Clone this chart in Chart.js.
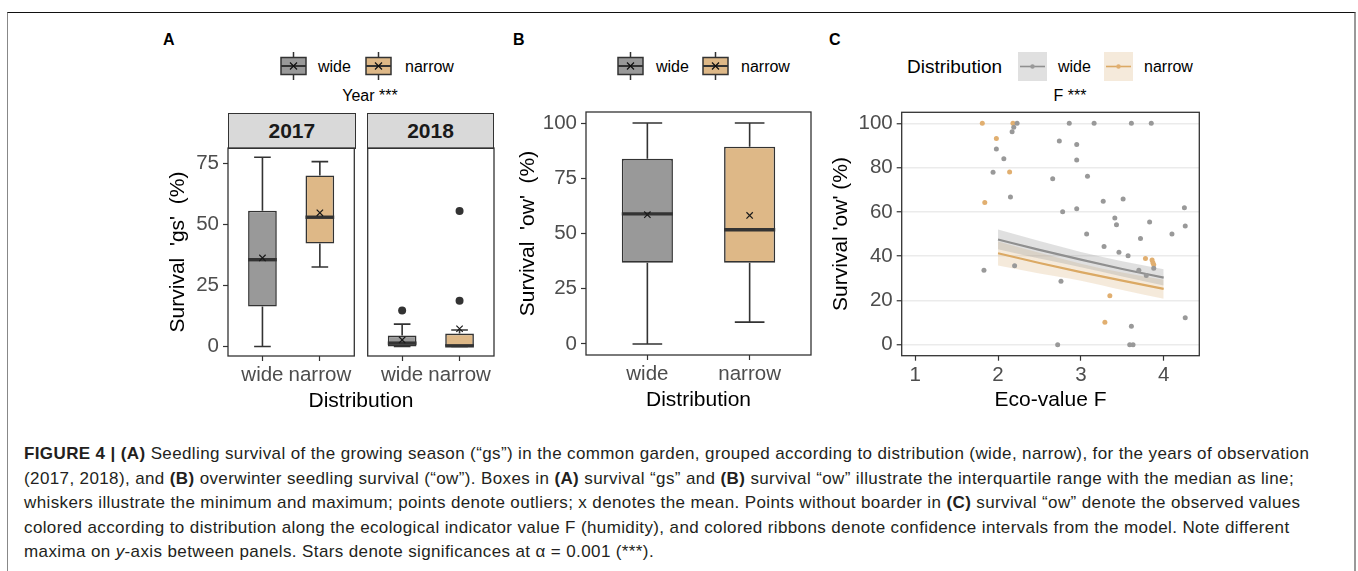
<!DOCTYPE html>
<html lang="en">
<head>
<meta charset="UTF-8">
<meta name="viewport" content="width=device-width, initial-scale=1.0">
<title>Figure 4 - Seedling survival</title>
<script src="https://cdn.jsdelivr.net/npm/chart.js"></script>
<style>
  body { margin: 0; background: #fff; font-family: "Liberation Sans", Arial, sans-serif; }
  #fig { position: relative; width: 1358px; height: 571px; overflow: hidden; }
  .abs { position: absolute; white-space: nowrap; }
  canvas { position: absolute; }
  .frame { left: 7px; top: 12px; width: 1346px; height: 620px; border-top: 1px solid #111; border-left: 1.5px solid #888; border-right: 2px solid #999; }
  .tag { font-weight: bold; font-size: 16px; line-height: 18px; color: #000; }
  .leg { font-size: 16px; line-height: 20px; color: #000; }
  .strip { background: #D9D9D9; border: 1.2px solid #333; box-sizing: border-box; font-weight: bold; font-size: 21px; color: #1A1A1A; text-align: center; }
  .axt { font-size: 21px; line-height: 26px; color: #000; text-align: center; }
  .cap { left: 24px; top: 442px; font-size: 17px; letter-spacing: 0.38px; line-height: 24.5px; color: #231F20; }
</style>
</head>
<body>
<div id="fig">
  <div class="abs frame"></div>

  <!-- panel letters -->
  <div class="abs tag" style="left:163px;top:31px">A</div>
  <div class="abs tag" style="left:513px;top:31px">B</div>
  <div class="abs tag" style="left:829px;top:31px">C</div>

  <!-- legend A -->
  <svg class="abs" style="left:280px;top:52px" width="27" height="28">
    <line x1="13.5" y1="0" x2="13.5" y2="6" stroke="#333" stroke-width="1.5"/>
    <line x1="13.5" y1="22" x2="13.5" y2="28" stroke="#333" stroke-width="1.5"/>
    <rect x="1" y="5.5" width="25" height="17" fill="#999999" stroke="#333" stroke-width="1.5"/>
    <line x1="1" y1="14" x2="26" y2="14" stroke="#333" stroke-width="2"/>
    <path d="M10 10.5 L17 17.5 M17 10.5 L10 17.5" stroke="#111" stroke-width="1.2"/>
  </svg>
  <div class="abs leg" style="left:318px;top:57px">wide</div>
  <svg class="abs" style="left:365px;top:52px" width="27" height="28">
    <line x1="13.5" y1="0" x2="13.5" y2="6" stroke="#333" stroke-width="1.5"/>
    <line x1="13.5" y1="22" x2="13.5" y2="28" stroke="#333" stroke-width="1.5"/>
    <rect x="1" y="5.5" width="25" height="17" fill="#DEB887" stroke="#333" stroke-width="1.5"/>
    <line x1="1" y1="14" x2="26" y2="14" stroke="#333" stroke-width="2"/>
    <path d="M10 10.5 L17 17.5 M17 10.5 L10 17.5" stroke="#111" stroke-width="1.2"/>
  </svg>
  <div class="abs leg" style="left:405px;top:57px">narrow</div>
  <div class="abs leg" style="left:270px;top:86px;width:200px;text-align:center">Year ***</div>

  <!-- legend B -->
  <svg class="abs" style="left:617px;top:52px" width="27" height="28">
    <line x1="13.5" y1="0" x2="13.5" y2="6" stroke="#333" stroke-width="1.5"/>
    <line x1="13.5" y1="22" x2="13.5" y2="28" stroke="#333" stroke-width="1.5"/>
    <rect x="1" y="5.5" width="25" height="17" fill="#999999" stroke="#333" stroke-width="1.5"/>
    <line x1="1" y1="14" x2="26" y2="14" stroke="#333" stroke-width="2"/>
    <path d="M10 10.5 L17 17.5 M17 10.5 L10 17.5" stroke="#111" stroke-width="1.2"/>
  </svg>
  <div class="abs leg" style="left:656px;top:57px">wide</div>
  <svg class="abs" style="left:702px;top:52px" width="27" height="28">
    <line x1="13.5" y1="0" x2="13.5" y2="6" stroke="#333" stroke-width="1.5"/>
    <line x1="13.5" y1="22" x2="13.5" y2="28" stroke="#333" stroke-width="1.5"/>
    <rect x="1" y="5.5" width="25" height="17" fill="#DEB887" stroke="#333" stroke-width="1.5"/>
    <line x1="1" y1="14" x2="26" y2="14" stroke="#333" stroke-width="2"/>
    <path d="M10 10.5 L17 17.5 M17 10.5 L10 17.5" stroke="#111" stroke-width="1.2"/>
  </svg>
  <div class="abs leg" style="left:741px;top:57px">narrow</div>

  <!-- legend C -->
  <div class="abs" style="left:907px;top:55px;font-size:19px;line-height:23px">Distribution</div>
  <svg class="abs" style="left:1018px;top:52px" width="29" height="29">
    <rect x="0" y="0" width="29" height="29" fill="#E0E0E0"/>
    <line x1="2" y1="14.5" x2="27" y2="14.5" stroke="#8F8F8F" stroke-width="1.6"/>
    <circle cx="14.5" cy="14.5" r="2.2" fill="#999999"/>
  </svg>
  <div class="abs leg" style="left:1058px;top:57px">wide</div>
  <svg class="abs" style="left:1104px;top:52px" width="29" height="29">
    <rect x="0" y="0" width="29" height="29" fill="#F5EADB"/>
    <line x1="2" y1="14.5" x2="27" y2="14.5" stroke="#DBA964" stroke-width="1.6"/>
    <circle cx="14.5" cy="14.5" r="2.2" fill="#E1AF70"/>
  </svg>
  <div class="abs leg" style="left:1144px;top:57px">narrow</div>
  <div class="abs leg" style="left:970px;top:86px;width:200px;text-align:center">F ***</div>

  <!-- facet strips for A -->
  <div class="abs strip" style="left:227.7px;top:112.7px;width:128.3px;height:36.3px;line-height:34px">2017</div>
  <div class="abs strip" style="left:366.7px;top:112.7px;width:127.6px;height:36.3px;line-height:34px">2018</div>

  <canvas id="chartA1" width="210" height="260" style="left:150px;top:140px"></canvas>
  <canvas id="chartA2" width="138" height="260" style="left:362px;top:140px"></canvas>
  <div class="abs axt" style="left:261px;top:387px;width:200px">Distribution</div>

  <canvas id="chartB" width="320" height="320" style="left:500px;top:104px"></canvas>
  <canvas id="chartC" width="386" height="320" style="left:820px;top:104px"></canvas>

  <div class="abs cap">
    <b>FIGURE 4 | (A)</b> Seedling survival of the growing season (“gs”) in the common garden, grouped according to distribution (wide, narrow), for the years of observation<br>
    (2017, 2018), and <b>(B)</b> overwinter seedling survival (“ow”). Boxes in <b>(A)</b> survival “gs” and <b>(B)</b> survival “ow” illustrate the interquartile range with the median as line;<br>
    whiskers illustrate the minimum and maximum; points denote outliers; x denotes the mean. Points without boarder in <b>(C)</b> survival “ow” denote the observed values<br>
    colored according to distribution along the ecological indicator value F (humidity), and colored ribbons denote confidence intervals from the model. Note different<br>
    maxima on <i>y</i>-axis between panels. Stars denote significances at α = 0.001 (***).
  </div>
</div>

<script>
// categories
const groups = ['wide', 'narrow'];
const groupPos = [1, 2];

// A: survival 'gs' (%), 2017
const gs17Min = [0, 32.6];
const gs17Q1 = [16.4, 42.2];
const gs17Median = [35.6, 53.0];
const gs17Q3 = [55.7, 70.1];
const gs17Max = [77.6, 75.8];
const gs17Mean = [36.3, 54.8];

// A: survival 'gs' (%), 2018
const gs18Min = [0, 0];
const gs18Q1 = [0, 0];
const gs18Median = [1.4, 0.3];
const gs18Q3 = [4.5, 5.3];
const gs18Max = [9.2, 6.8];
const gs18Mean = [2.7, 7.3];
const gs18OutlierPos = [1, 2, 2];
const gs18OutlierVal = [14.8, 55.6, 18.8];

// B: survival 'ow' (%)
const owMin = [0, 9.9];
const owQ1 = [36.8, 36.8];
const owMedian = [58.9, 51.7];
const owQ3 = [83.8, 89.3];
const owMax = [100, 100];
const owMean = [58.5, 58.2];

// C: observed survival 'ow' against eco-value F
const wideF = [2.23, 2.19, 2.17, 1.98, 2.07, 1.94, 2.15, 1.83, 2.20, 2.86, 3.16, 3.61, 3.85,
  2.74, 2.95, 2.95, 3.08, 2.66, 2.78, 2.95, 3.27, 3.51, 4.25, 3.41, 3.43, 3.83, 4.26, 3.07,
  4.10, 3.72, 3.28, 3.46, 3.57, 3.70, 3.79, 3.88, 2.76, 3.61, 4.26, 2.72, 3.59, 3.63];
const wideOw = [100, 98.2, 96.2, 88.4, 84.0, 77.9, 66.7, 33.6, 35.7, 100, 100, 100, 100,
  92.0, 90.4, 83.4, 76.1, 75.0, 60.1, 61.4, 64.8, 65.8, 61.9, 57.2, 54.2, 55.4, 53.6, 50.0,
  50.0, 48.0, 44.4, 41.7, 40.2, 33.6, 31.3, 34.5, 28.6, 8.3, 12.2, 0, 0, 0];
const narrowF = [1.81, 2.18, 1.98, 2.14, 1.84, 3.78, 3.86, 3.87, 3.88, 3.35, 3.29];
const narrowOw = [100, 100, 93.2, 78.0, 64.2, 38.9, 38.3, 37.0, 36.1, 22.1, 10.1];

// C: model fit and confidence ribbon
const fitF = [2, 2.5, 3, 3.5, 4];
const wideFit = [47.5, 42.8, 38.4, 34.2, 30.3];
const wideUpper = [52.0, 46.8, 41.9, 37.7, 34.1];
const wideLower = [43.1, 38.9, 35.0, 30.8, 26.7];
const narrowFit = [41.3, 36.9, 32.8, 28.9, 25.2];
const narrowUpper = [46.6, 41.5, 36.6, 32.6, 29.3];
const narrowLower = [35.8, 32.2, 28.9, 24.7, 20.7];

// tick labels
const yTicksA = [0, 25, 50, 75];
const yTicksB = [0, 25, 50, 75, 100];
const yTicksC = [0, 20, 40, 60, 80, 100];
const xTicksC = [1, 2, 3, 4];

const boxFill = ['#999999', '#DEB887'];
const capWidth = 0.29;

Chart.defaults.font.family = '"Liberation Sans", Arial, sans-serif';
Chart.defaults.animation = false;
Chart.defaults.plugins.legend.display = false;
Chart.defaults.plugins.tooltip.enabled = false;

function pts(xs, ys) {
  return xs.map((x, i) => ({x: x, y: ys[i]}));
}

// keep axis boxes at a fixed size so the plot areas line up with the figure
function fixAxis(w, h) {
  return function (s) {
    if (w !== undefined) s.width = w;
    if (h !== undefined) s.height = h;
    s.paddingTop = s.paddingBottom = s.paddingLeft = s.paddingRight = 0;
  };
}

const panelFrame = {
  id: 'panelFrame',
  afterDatasetsDraw(chart) {
    const a = chart.chartArea, ctx = chart.ctx;
    ctx.save();
    ctx.strokeStyle = '#333333';
    ctx.lineWidth = 1.3;
    ctx.strokeRect(a.left, a.top, a.right - a.left, a.bottom - a.top);
    ctx.restore();
  }
};

// whiskers, caps and median line for the box datasets
const whiskers = {
  id: 'whiskers',
  afterDatasetDraw(chart, args) {
    if (args.index !== 0) return;
    const s = chart.data.datasets[0].stats;
    const {ctx, scales: {x, y}} = chart;
    ctx.save();
    ctx.strokeStyle = '#333333';
    s.q1.forEach((q1, i) => {
      const px = x.getPixelForValue(groupPos[i]);
      const cap = x.getPixelForValue(groupPos[i] + capWidth / 2) - px;
      const half = args.meta.data[i].width / 2;
      const yLo = y.getPixelForValue(s.min[i]);
      const yHi = y.getPixelForValue(s.max[i]);
      ctx.lineWidth = 1.6;
      ctx.beginPath();
      ctx.moveTo(px, yLo); ctx.lineTo(px, y.getPixelForValue(q1));
      ctx.moveTo(px, y.getPixelForValue(s.q3[i])); ctx.lineTo(px, yHi);
      ctx.moveTo(px - cap, yLo); ctx.lineTo(px + cap, yLo);
      ctx.moveTo(px - cap, yHi); ctx.lineTo(px + cap, yHi);
      ctx.stroke();
      const yMed = y.getPixelForValue(s.median[i]);
      ctx.lineWidth = 3.4;
      ctx.beginPath();
      ctx.moveTo(px - half, yMed); ctx.lineTo(px + half, yMed);
      ctx.stroke();
    });
    ctx.restore();
  }
};

function boxPanel(id, s, o) {
  const outliers = pts(s.outX || [], s.outY || []);
  return new Chart(document.getElementById(id), {
    data: {
      datasets: [
        {
          type: 'bar', order: 2, stats: s,
          data: groupPos.map((x, i) => ({x: x, y: [s.q1[i], s.q3[i]]})),
          backgroundColor: boxFill, borderColor: '#333333', borderWidth: 1.6,
          borderSkipped: false, barPercentage: 0.5, categoryPercentage: 1
        },
        {
          type: 'scatter', order: 1, data: outliers,
          pointRadius: 4, backgroundColor: '#333333', borderWidth: 0
        },
        {
          type: 'scatter', order: 0, data: pts(groupPos, s.mean),
          pointStyle: 'crossRot', pointRadius: 4.5, borderColor: '#1A1A1A', borderWidth: 1.2,
          backgroundColor: 'rgba(0,0,0,0)'
        }
      ]
    },
    options: {
      responsive: false,
      layout: {padding: o.pad},
      scales: {
        x: {
          type: 'linear', min: 0.4, max: 2.6, offset: false,
          afterBuildTicks: sc => { sc.ticks = groupPos.map(v => ({value: v})); },
          afterFit: fixAxis(undefined, o.xh),
          grid: {offset: false, drawOnChartArea: false, tickLength: 5, tickColor: '#333333', tickWidth: 1.2},
          border: {display: false},
          ticks: {
            color: '#4D4D4D', font: {size: 20.5}, padding: 2, autoSkip: false, maxRotation: 0,
            callback: v => groups[groupPos.indexOf(v)]
          },
          title: o.xTitle ? {display: true, text: o.xTitle, color: '#000', font: {size: 21}, padding: {top: 0, bottom: 11.4}} : {display: false}
        },
        y: {
          type: 'linear', display: o.showY, min: o.yMin, max: o.yMax,
          afterBuildTicks: sc => { sc.ticks = o.yTicks.map(v => ({value: v})); },
          afterFit: fixAxis(o.yw, undefined),
          grid: {drawOnChartArea: false, tickLength: 5, tickColor: '#333333', tickWidth: 1.2},
          border: {display: false},
          ticks: {color: '#4D4D4D', font: {size: 20.5}, padding: 4},
          title: {display: true, text: o.yTitle, color: '#000', font: {size: 21}, padding: {top: o.titlePad, bottom: 0}}
        }
      }
    },
    plugins: [whiskers, panelFrame]
  });
}

boxPanel('chartA1',
  {min: gs17Min, q1: gs17Q1, median: gs17Median, q3: gs17Q3, max: gs17Max, mean: gs17Mean},
  {pad: {left: 0, right: 4, top: 8, bottom: 0}, xh: 44, yw: 78, showY: true,
   yMin: -3.875, yMax: 81.375, yTicks: yTicksA, yTitle: "Survival  'gs'  (%)", titlePad: 15.4});

boxPanel('chartA2',
  {min: gs18Min, q1: gs18Q1, median: gs18Median, q3: gs18Q3, max: gs18Max, mean: gs18Mean,
   outX: gs18OutlierPos, outY: gs18OutlierVal},
  {pad: {left: 5, right: 6, top: 8, bottom: 0}, xh: 44, showY: false,
   yMin: -3.875, yMax: 81.375, yTicks: yTicksA, yTitle: ''});

boxPanel('chartB',
  {min: owMin, q1: owQ1, median: owMedian, q3: owQ3, max: owMax, mean: owMean},
  {pad: {left: 0, right: 9, top: 8, bottom: 0}, xh: 69, yw: 86, showY: true, xTitle: 'Distribution',
   yMin: -5, yMax: 105, yTicks: yTicksB, yTitle: "Survival  'ow'  (%)", titlePad: 15.4});

// C: scatter with fitted lines and ribbons
const lineBase = {type: 'line', pointRadius: 0, cubicInterpolationMode: 'monotone', fill: false};
new Chart(document.getElementById('chartC'), {
  data: {
    datasets: [
      Object.assign({}, lineBase, {order: 4, data: pts(fitF, wideUpper), fill: '+1', backgroundColor: 'rgba(153,153,153,0.3)', borderWidth: 0}),
      Object.assign({}, lineBase, {order: 4, data: pts(fitF, wideLower), borderWidth: 0}),
      Object.assign({}, lineBase, {order: 4, data: pts(fitF, narrowUpper), fill: '+1', backgroundColor: 'rgba(222,184,135,0.3)', borderWidth: 0}),
      Object.assign({}, lineBase, {order: 4, data: pts(fitF, narrowLower), borderWidth: 0}),
      Object.assign({}, lineBase, {order: 3, data: pts(fitF, wideFit), borderColor: '#8F8F8F', borderWidth: 2.2}),
      Object.assign({}, lineBase, {order: 3, data: pts(fitF, narrowFit), borderColor: '#DBA964', borderWidth: 2.2}),
      {type: 'scatter', order: 1, data: pts(wideF, wideOw), pointRadius: 2.5, backgroundColor: '#999999', borderWidth: 0},
      {type: 'scatter', order: 1, data: pts(narrowF, narrowOw), pointRadius: 2.5, backgroundColor: '#E1AF70', borderWidth: 0}
    ]
  },
  options: {
    responsive: false,
    layout: {padding: {left: 0, right: 6.7, top: 8.3, bottom: 0}},
    scales: {
      x: {
        type: 'linear', min: 0.837, max: 4.43,
        afterBuildTicks: sc => { sc.ticks = xTicksC.map(v => ({value: v})); },
        afterFit: fixAxis(undefined, 68.3),
        grid: {drawOnChartArea: false, tickLength: 5, tickColor: '#333333', tickWidth: 1.2},
        border: {display: false},
        ticks: {color: '#4D4D4D', font: {size: 20.5}, padding: 2},
        title: {display: true, text: 'Eco-value F', color: '#000', font: {size: 21}, padding: {top: 0, bottom: 11.4}}
      },
      y: {
        type: 'linear', min: -5, max: 105,
        afterBuildTicks: sc => { sc.ticks = yTicksC.map(v => ({value: v})); },
        afterFit: fixAxis(81.7, undefined),
        grid: {color: '#EBEBEB', lineWidth: 1.5, tickLength: 5, tickColor: '#333333', tickWidth: 1.2},
        border: {display: false},
        ticks: {color: '#4D4D4D', font: {size: 20.5}, padding: 4},
        title: {display: true, text: "Survival 'ow' (%)", color: '#000', font: {size: 21}, padding: {top: 9.1, bottom: 0}}
      }
    }
  },
  plugins: [panelFrame]
});
</script>
</body>
</html>
